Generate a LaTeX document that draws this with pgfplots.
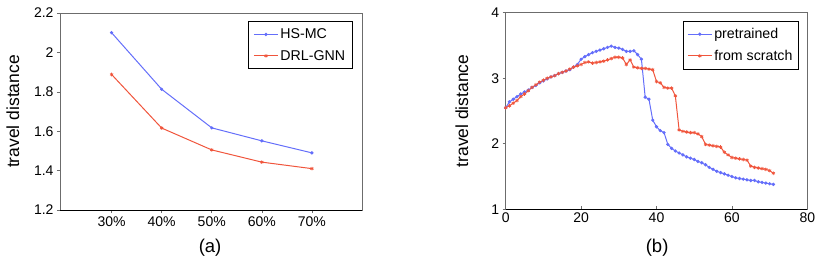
\documentclass[border=0pt]{standalone}
\usepackage{fontspec}
\setmainfont{Liberation Sans}
\usepackage{pgfplots}
\pgfplotsset{compat=1.18}
\definecolor{blueL}{RGB}{100,110,250}
\definecolor{redL}{RGB}{240,85,60}
\pgfplotsset{
  mystyle/.style={
    scale only axis,
    axis line style={draw=gray!85!black, line width=0.8pt},
    tick style={draw=gray!85!black, line width=0.6pt},
    major tick length=3pt,
    ytick align=outside,
    ytick pos=left,
    xtick pos=bottom,
    /pgf/number format/assume math mode=true,
    tick label style={font=\fontsize{14}{16}\selectfont},
    legend image code/.code={\draw[mark repeat=2,mark phase=2,#1] plot coordinates {(0pt,0pt) (12pt,0pt) (24pt,0pt)};},
    after end axis/.code={\draw[black, line width=0.8pt] (rel axis cs:0,0) -- (rel axis cs:1,0);},
    clip=false,
  },
  bl/.style={color=blueL, line width=1pt, mark=*, mark size=1.1pt, mark options={solid}},
  rd/.style={color=redL, line width=1pt, mark=asterisk, mark size=1.8pt, mark options={solid, line width=0.7pt}},
}
\begin{document}
\begin{tikzpicture}[x=1pt,y=1pt]
\useasboundingbox (0,0) rectangle (822,263);
\begin{axis}[mystyle,
  at={(60pt,53pt)}, anchor=south west, width=302pt, height=197pt,
  xmin=-1.03, xmax=5, ymin=1.2, ymax=2.2,
  xtick={0,1,2,3,4}, xticklabels={30\%,40\%,50\%,60\%,70\%},
  xtick align=outside,
  ytick={1.2,1.4,1.6,1.8,2,2.2},
  yticklabels={1.2,1.4,1.6,1.8,2,2.2},
  ylabel={travel distance},
  ylabel style={at={(axis description cs:-0.156,0.5)}, anchor=center, font=\fontsize{17.5}{19}\selectfont},
  xlabel={(a)},
  xlabel style={at={(axis description cs:0.497,-0.193)}, anchor=center, font=\fontsize{18.5}{20}\selectfont},
  legend style={at={(axis description cs:0.623,0.957)}, anchor=north west, draw=black, line width=0.6pt, inner xsep=5pt, inner ysep=5pt,
      font=\fontsize{14.2}{16}\selectfont, row sep=6pt, cells={anchor=west}},
]
\addplot[bl] coordinates {(0,2.10) (1,1.813) (2,1.617) (3,1.551) (4,1.490)};
\addlegendentry{HS-MC}
\addplot[rd] coordinates {(0,1.888) (1,1.616) (2,1.505) (3,1.443) (4,1.410)};
\addlegendentry{DRL-GNN}
\end{axis}
\begin{axis}[mystyle,
  at={(505.7pt,53.7pt)}, anchor=south west, width=301.6pt, height=196.6pt,
  xmin=0, xmax=80, ymin=1, ymax=4,
  xtick={0,20,40,60,80}, ytick={1,2,3,4},
  xtick align=inside,
  ylabel={travel distance},
  ylabel style={at={(axis description cs:-0.145,0.5)}, anchor=center, font=\fontsize{17.5}{19}\selectfont},
  xlabel={(b)},
  xlabel style={at={(axis description cs:0.502,-0.193)}, anchor=center, font=\fontsize{18.5}{20}\selectfont},
  legend style={at={(axis description cs:0.588,0.958)}, anchor=north west, draw=black, line width=0.6pt, inner xsep=4pt, inner ysep=5pt,
      font=\fontsize{14.2}{16}\selectfont, row sep=6pt, cells={anchor=west}},
]
\addplot[bl] coordinates {
(0,2.55) (1,2.64) (2,2.68) (3,2.72) (4,2.76) (5,2.79) (6,2.82) (7,2.86) (8,2.89) (9,2.93)
(10,2.96) (11,2.99) (12,3.02) (13,3.04) (14,3.07) (15,3.09) (16,3.11) (17,3.13) (18,3.17) (19,3.21)
(20,3.29) (21,3.33) (22,3.36) (23,3.39) (24,3.41) (25,3.43) (26,3.45) (27,3.47) (28,3.49) (29,3.47)
(30,3.46) (31,3.44) (32,3.41) (33,3.41) (34,3.42) (35,3.36) (36,3.29) (37,2.71) (38,2.68) (39,2.36)
(40,2.26) (41,2.20) (42,2.17) (43,1.99) (44,1.93) (45,1.89) (46,1.86) (47,1.83) (48,1.80) (49,1.78)
(50,1.76) (51,1.73) (52,1.71) (53,1.68) (54,1.64) (55,1.61) (56,1.58) (57,1.56) (58,1.54) (59,1.52)
(60,1.50) (61,1.48) (62,1.47) (63,1.46) (64,1.45) (65,1.44) (66,1.44) (67,1.42) (68,1.41) (69,1.40)
(70,1.39) (71,1.38)};
\addlegendentry{pretrained}
\addplot[rd] coordinates {
(0,2.55) (1,2.58) (2,2.62) (3,2.66) (4,2.72) (5,2.76) (6,2.81) (7,2.86) (8,2.90) (9,2.94)
(10,2.97) (11,3.00) (12,3.02) (13,3.04) (14,3.07) (15,3.09) (16,3.11) (17,3.14) (18,3.17) (19,3.19)
(20,3.21) (21,3.24) (22,3.25) (23,3.23) (24,3.24) (25,3.25) (26,3.26) (27,3.28) (28,3.30) (29,3.32)
(30,3.32) (31,3.31) (32,3.21) (33,3.28) (34,3.17) (35,3.16) (36,3.15) (37,3.15) (38,3.14) (39,3.13)
(40,2.95) (41,2.93) (42,2.86) (43,2.85) (44,2.85) (45,2.73) (46,2.21) (47,2.19) (48,2.18) (49,2.17)
(50,2.17) (51,2.15) (52,2.11) (53,1.99) (54,1.98) (55,1.97) (56,1.96) (57,1.95) (58,1.87) (59,1.83)
(60,1.79) (61,1.78) (62,1.77) (63,1.76) (64,1.75) (65,1.66) (66,1.64) (67,1.63) (68,1.62) (69,1.61)
(70,1.59) (71,1.55)};
\addlegendentry{from scratch}
\end{axis}
\end{tikzpicture}
\end{document}
